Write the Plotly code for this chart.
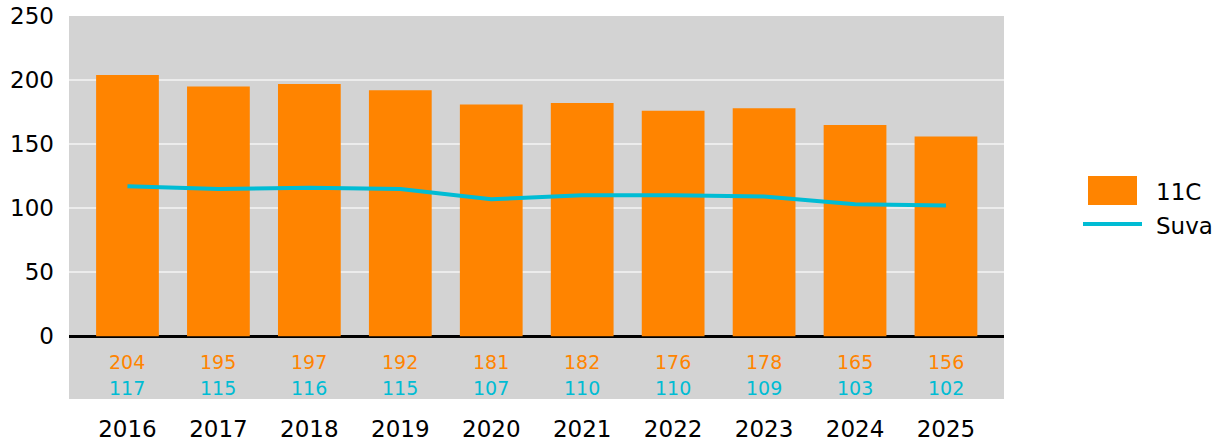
import plotly.graph_objects as go

years = ["2016", "2017", "2018", "2019", "2020", "2021", "2022", "2023", "2024", "2025"]
values_11c = [204, 195, 197, 192, 181, 182, 176, 178, 165, 156]
values_suva = [117, 115, 116, 115, 107, 110, 110, 109, 103, 102]
y_ticks = [0, 50, 100, 150, 200, 250]

ORANGE = "#FF8400"
CYAN = "#00BCD4"
GRAY = "#D3D3D3"
FONT = "DejaVu Sans, Verdana, sans-serif"

fig = go.Figure()

fig.add_trace(go.Bar(
    x=years, y=values_11c, name="11C",
    marker=dict(color=ORANGE, line=dict(width=0)),
    width=0.69, showlegend=False,
))
fig.add_trace(go.Scatter(
    x=years, y=values_suva, name="Suva", mode="lines",
    line=dict(color=CYAN, width=4), showlegend=False,
))

# value rows beneath the zero line (category index positions)
for i, (a, b) in enumerate(zip(values_11c, values_suva)):
    fig.add_annotation(x=i, y=-20.3, text=str(a), showarrow=False,
                       font=dict(family=FONT, size=19, color=ORANGE))
    fig.add_annotation(x=i, y=-40.6, text=str(b), showarrow=False,
                       font=dict(family=FONT, size=19, color=CYAN))

# legend drawn on the right
PW, PH, PL, PB = 935, 383, 69, 399
fig.add_shape(type="rect", xref="paper", yref="paper",
              x0=(1088 - PL) / PW, x1=(1137 - PL) / PW,
              y0=(PB - 205) / PH, y1=(PB - 176) / PH,
              fillcolor=ORANGE, line=dict(width=0))
fig.add_shape(type="line", xref="paper", yref="paper",
              x0=(1083 - PL) / PW, x1=(1142 - PL) / PW,
              y0=(PB - 224) / PH, y1=(PB - 224) / PH,
              line=dict(color=CYAN, width=4))
fig.add_annotation(xref="paper", yref="paper", x=(1154 - PL) / PW,
                   y=(PB - 192) / PH, text="11C", showarrow=False,
                   xanchor="left", yanchor="middle",
                   font=dict(family=FONT, size=23, color="black"))
fig.add_annotation(xref="paper", yref="paper", x=(1154 - PL) / PW,
                   y=(PB - 226) / PH, text="Suva", showarrow=False,
                   xanchor="left", yanchor="middle",
                   font=dict(family=FONT, size=23, color="black"))

fig.update_layout(
    width=1220, height=443,
    margin=dict(l=PL, r=1220 - PL - PW, t=16, b=443 - PB, autoexpand=False),
    paper_bgcolor="white", plot_bgcolor=GRAY,
    font=dict(family=FONT, size=23, color="black"),
)
fig.update_xaxes(
    type="category", range=[-0.643, 9.638], automargin=False,
    showgrid=False, zeroline=False, ticks="",
    tickfont=dict(size=23), ticklabelstandoff=14,
)
fig.update_yaxes(
    range=[-49, 250], tickvals=y_ticks, ticktext=[str(v) for v in y_ticks],
    automargin=False,
    showgrid=True, gridcolor="#ECECEC", gridwidth=2,
    zeroline=True, zerolinecolor="black", zerolinewidth=3,
    ticks="", tickfont=dict(size=23), ticklabelstandoff=14,
)

fig.write_html("out.html")
